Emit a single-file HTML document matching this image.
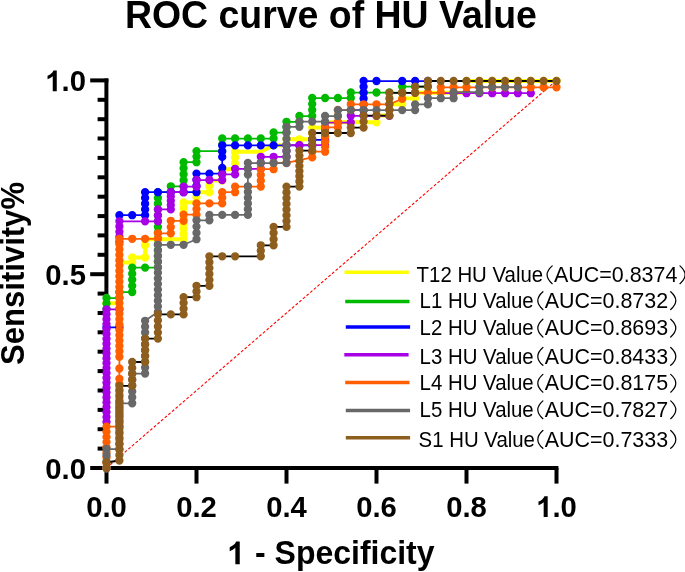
<!DOCTYPE html>
<html><head><meta charset="utf-8"><title>ROC curve of HU Value</title>
<style>
html,body{margin:0;padding:0;background:#fff;}
body{width:685px;height:572px;overflow:hidden;font-family:"Liberation Sans",sans-serif;}
svg{display:block;will-change:transform;}
</style></head><body>
<svg width="685" height="572" viewBox="0 0 685 572">
<rect width="685" height="572" fill="#ffffff"/>
<g stroke="#000000" stroke-width="4" fill="none">
<path d="M90.2 468H558.4"/>
<path d="M106.4 470V78.4"/>
<path d="M97.6 448.6H106"/>
<path d="M97.6 429.2H106"/>
<path d="M97.6 409.9H106"/>
<path d="M97.6 390.5H106"/>
<path d="M97.6 371.1H106"/>
<path d="M97.6 351.7H106"/>
<path d="M97.6 332.3H106"/>
<path d="M97.6 313.0H106"/>
<path d="M97.6 293.6H106"/>
<path d="M90.2 274.2H106.4"/>
<path d="M97.6 254.8H106"/>
<path d="M97.6 235.4H106"/>
<path d="M97.6 216.1H106"/>
<path d="M97.6 196.7H106"/>
<path d="M97.6 177.3H106"/>
<path d="M97.6 157.9H106"/>
<path d="M97.6 138.5H106"/>
<path d="M97.6 119.2H106"/>
<path d="M97.6 99.8H106"/>
<path d="M90.2 80.4H108.4"/>
<path d="M106.5 468V483.6"/>
<path d="M196.5 468V483.6"/>
<path d="M286.5 468V483.6"/>
<path d="M376.5 468V483.6"/>
<path d="M466.5 468V483.6"/>
<path d="M556.5 468V483.6"/>
</g>
<path d="M106.5 468.0L556.5 80.4" stroke="#ff0000" stroke-width="1.1" stroke-dasharray="2.9 1.9" fill="none"/>
<path d="M106.5 468.0 L106.5 303.3 L119.4 303.3 L119.4 262.5 L132.2 262.5 L132.2 257.5 L145.1 257.5 L145.1 245.2 L145.1 239.3 L183.6 239.3 L183.6 202.4 L196.5 202.4 L196.5 192.2 L209.4 192.2 L209.4 185.8 L209.4 180.6 L222.2 180.6 L222.2 169.2 L235.1 169.2 L235.1 151.7 L260.8 151.7 L273.6 145.3 L286.5 145.3 L286.5 139.3 L312.2 139.3 L312.2 127.6 L325.1 127.6 L325.1 122.3 L376.5 122.3 L376.5 115.5 L389.4 115.5 L389.4 104.2 L402.2 104.2 L402.2 98.4 L415.1 98.4 L415.1 92.8 L466.5 92.8 L466.5 81.0 L556.5 81.0" fill="none" stroke="#ffff00" stroke-width="3.9" stroke-linejoin="round"/>
<path d="M106.5 468.0m-4.15 0a4.15 4.15 0 1 0 8.30 0a4.15 4.15 0 1 0 -8.30 0M106.5 303.3m-4.15 0a4.15 4.15 0 1 0 8.30 0a4.15 4.15 0 1 0 -8.30 0M119.4 303.3m-4.15 0a4.15 4.15 0 1 0 8.30 0a4.15 4.15 0 1 0 -8.30 0M119.4 262.5m-4.15 0a4.15 4.15 0 1 0 8.30 0a4.15 4.15 0 1 0 -8.30 0M132.2 262.5m-4.15 0a4.15 4.15 0 1 0 8.30 0a4.15 4.15 0 1 0 -8.30 0M132.2 257.5m-4.15 0a4.15 4.15 0 1 0 8.30 0a4.15 4.15 0 1 0 -8.30 0M145.1 257.5m-4.15 0a4.15 4.15 0 1 0 8.30 0a4.15 4.15 0 1 0 -8.30 0M145.1 245.2m-4.15 0a4.15 4.15 0 1 0 8.30 0a4.15 4.15 0 1 0 -8.30 0M145.1 239.3m-4.15 0a4.15 4.15 0 1 0 8.30 0a4.15 4.15 0 1 0 -8.30 0M183.6 239.3m-4.15 0a4.15 4.15 0 1 0 8.30 0a4.15 4.15 0 1 0 -8.30 0M183.6 234.0m-4.15 0a4.15 4.15 0 1 0 8.30 0a4.15 4.15 0 1 0 -8.30 0M183.6 228.8m-4.15 0a4.15 4.15 0 1 0 8.30 0a4.15 4.15 0 1 0 -8.30 0M183.6 223.5m-4.15 0a4.15 4.15 0 1 0 8.30 0a4.15 4.15 0 1 0 -8.30 0M183.6 218.2m-4.15 0a4.15 4.15 0 1 0 8.30 0a4.15 4.15 0 1 0 -8.30 0M183.6 212.9m-4.15 0a4.15 4.15 0 1 0 8.30 0a4.15 4.15 0 1 0 -8.30 0M183.6 207.7m-4.15 0a4.15 4.15 0 1 0 8.30 0a4.15 4.15 0 1 0 -8.30 0M183.6 202.4m-4.15 0a4.15 4.15 0 1 0 8.30 0a4.15 4.15 0 1 0 -8.30 0M196.5 202.4m-4.15 0a4.15 4.15 0 1 0 8.30 0a4.15 4.15 0 1 0 -8.30 0M196.5 197.3m-4.15 0a4.15 4.15 0 1 0 8.30 0a4.15 4.15 0 1 0 -8.30 0M196.5 192.2m-4.15 0a4.15 4.15 0 1 0 8.30 0a4.15 4.15 0 1 0 -8.30 0M209.4 192.2m-4.15 0a4.15 4.15 0 1 0 8.30 0a4.15 4.15 0 1 0 -8.30 0M209.4 185.8m-4.15 0a4.15 4.15 0 1 0 8.30 0a4.15 4.15 0 1 0 -8.30 0M209.4 180.6m-4.15 0a4.15 4.15 0 1 0 8.30 0a4.15 4.15 0 1 0 -8.30 0M222.2 180.6m-4.15 0a4.15 4.15 0 1 0 8.30 0a4.15 4.15 0 1 0 -8.30 0M222.2 174.9m-4.15 0a4.15 4.15 0 1 0 8.30 0a4.15 4.15 0 1 0 -8.30 0M222.2 169.2m-4.15 0a4.15 4.15 0 1 0 8.30 0a4.15 4.15 0 1 0 -8.30 0M235.1 169.2m-4.15 0a4.15 4.15 0 1 0 8.30 0a4.15 4.15 0 1 0 -8.30 0M235.1 163.4m-4.15 0a4.15 4.15 0 1 0 8.30 0a4.15 4.15 0 1 0 -8.30 0M235.1 157.5m-4.15 0a4.15 4.15 0 1 0 8.30 0a4.15 4.15 0 1 0 -8.30 0M235.1 151.7m-4.15 0a4.15 4.15 0 1 0 8.30 0a4.15 4.15 0 1 0 -8.30 0M273.6 145.3m-4.15 0a4.15 4.15 0 1 0 8.30 0a4.15 4.15 0 1 0 -8.30 0M286.5 145.3m-4.15 0a4.15 4.15 0 1 0 8.30 0a4.15 4.15 0 1 0 -8.30 0M286.5 139.3m-4.15 0a4.15 4.15 0 1 0 8.30 0a4.15 4.15 0 1 0 -8.30 0M299.4 139.3m-4.15 0a4.15 4.15 0 1 0 8.30 0a4.15 4.15 0 1 0 -8.30 0M312.2 139.3m-4.15 0a4.15 4.15 0 1 0 8.30 0a4.15 4.15 0 1 0 -8.30 0M312.2 133.4m-4.15 0a4.15 4.15 0 1 0 8.30 0a4.15 4.15 0 1 0 -8.30 0M312.2 127.6m-4.15 0a4.15 4.15 0 1 0 8.30 0a4.15 4.15 0 1 0 -8.30 0M325.1 127.6m-4.15 0a4.15 4.15 0 1 0 8.30 0a4.15 4.15 0 1 0 -8.30 0M325.1 122.3m-4.15 0a4.15 4.15 0 1 0 8.30 0a4.15 4.15 0 1 0 -8.30 0M376.5 122.3m-4.15 0a4.15 4.15 0 1 0 8.30 0a4.15 4.15 0 1 0 -8.30 0M376.5 115.5m-4.15 0a4.15 4.15 0 1 0 8.30 0a4.15 4.15 0 1 0 -8.30 0M389.4 115.5m-4.15 0a4.15 4.15 0 1 0 8.30 0a4.15 4.15 0 1 0 -8.30 0M389.4 109.8m-4.15 0a4.15 4.15 0 1 0 8.30 0a4.15 4.15 0 1 0 -8.30 0M389.4 104.2m-4.15 0a4.15 4.15 0 1 0 8.30 0a4.15 4.15 0 1 0 -8.30 0M402.2 104.2m-4.15 0a4.15 4.15 0 1 0 8.30 0a4.15 4.15 0 1 0 -8.30 0M402.2 98.4m-4.15 0a4.15 4.15 0 1 0 8.30 0a4.15 4.15 0 1 0 -8.30 0M415.1 98.4m-4.15 0a4.15 4.15 0 1 0 8.30 0a4.15 4.15 0 1 0 -8.30 0M415.1 92.8m-4.15 0a4.15 4.15 0 1 0 8.30 0a4.15 4.15 0 1 0 -8.30 0M427.9 92.8m-4.15 0a4.15 4.15 0 1 0 8.30 0a4.15 4.15 0 1 0 -8.30 0M440.8 92.8m-4.15 0a4.15 4.15 0 1 0 8.30 0a4.15 4.15 0 1 0 -8.30 0M453.6 92.8m-4.15 0a4.15 4.15 0 1 0 8.30 0a4.15 4.15 0 1 0 -8.30 0M466.5 92.8m-4.15 0a4.15 4.15 0 1 0 8.30 0a4.15 4.15 0 1 0 -8.30 0M466.5 86.9m-4.15 0a4.15 4.15 0 1 0 8.30 0a4.15 4.15 0 1 0 -8.30 0M466.5 81.0m-4.15 0a4.15 4.15 0 1 0 8.30 0a4.15 4.15 0 1 0 -8.30 0M479.4 81.0m-4.15 0a4.15 4.15 0 1 0 8.30 0a4.15 4.15 0 1 0 -8.30 0M492.2 81.0m-4.15 0a4.15 4.15 0 1 0 8.30 0a4.15 4.15 0 1 0 -8.30 0M505.1 81.0m-4.15 0a4.15 4.15 0 1 0 8.30 0a4.15 4.15 0 1 0 -8.30 0M517.9 81.0m-4.15 0a4.15 4.15 0 1 0 8.30 0a4.15 4.15 0 1 0 -8.30 0M530.8 81.0m-4.15 0a4.15 4.15 0 1 0 8.30 0a4.15 4.15 0 1 0 -8.30 0M543.6 81.0m-4.15 0a4.15 4.15 0 1 0 8.30 0a4.15 4.15 0 1 0 -8.30 0M556.5 81.0m-4.15 0a4.15 4.15 0 1 0 8.30 0a4.15 4.15 0 1 0 -8.30 0" fill="#ffff00"/>
<path d="M106.5 468.0 L106.5 309.0 L106.5 303.5 L106.5 298.0 L119.4 298.0 L119.4 292.0 L132.2 292.0 L132.2 267.6 L157.9 267.6 L157.9 192.2 L170.8 192.2 L170.8 186.3 L183.6 186.3 L183.6 162.2 L196.5 162.2 L196.5 151.1 L222.2 151.1 L222.2 138.5 L273.6 138.5 L273.6 132.5 L286.5 132.5 L286.5 121.8 L299.4 121.8 L299.4 116.0 L312.2 116.0 L312.2 98.0 L350.8 98.0 L350.8 92.5 L402.2 92.5 L402.2 86.6 L427.9 86.6" fill="none" stroke="#00ba00" stroke-width="1.75" stroke-linejoin="round"/>
<path d="M106.5 468.0m-4.15 0a4.15 4.15 0 1 0 8.30 0a4.15 4.15 0 1 0 -8.30 0M106.5 309.0m-4.15 0a4.15 4.15 0 1 0 8.30 0a4.15 4.15 0 1 0 -8.30 0M106.5 303.5m-4.15 0a4.15 4.15 0 1 0 8.30 0a4.15 4.15 0 1 0 -8.30 0M106.5 298.0m-4.15 0a4.15 4.15 0 1 0 8.30 0a4.15 4.15 0 1 0 -8.30 0M119.4 298.0m-4.15 0a4.15 4.15 0 1 0 8.30 0a4.15 4.15 0 1 0 -8.30 0M119.4 292.0m-4.15 0a4.15 4.15 0 1 0 8.30 0a4.15 4.15 0 1 0 -8.30 0M132.2 292.0m-4.15 0a4.15 4.15 0 1 0 8.30 0a4.15 4.15 0 1 0 -8.30 0M132.2 285.9m-4.15 0a4.15 4.15 0 1 0 8.30 0a4.15 4.15 0 1 0 -8.30 0M132.2 279.8m-4.15 0a4.15 4.15 0 1 0 8.30 0a4.15 4.15 0 1 0 -8.30 0M132.2 273.7m-4.15 0a4.15 4.15 0 1 0 8.30 0a4.15 4.15 0 1 0 -8.30 0M132.2 267.6m-4.15 0a4.15 4.15 0 1 0 8.30 0a4.15 4.15 0 1 0 -8.30 0M145.1 267.6m-4.15 0a4.15 4.15 0 1 0 8.30 0a4.15 4.15 0 1 0 -8.30 0M157.9 267.6m-4.15 0a4.15 4.15 0 1 0 8.30 0a4.15 4.15 0 1 0 -8.30 0M157.9 261.8m-4.15 0a4.15 4.15 0 1 0 8.30 0a4.15 4.15 0 1 0 -8.30 0M157.9 256.0m-4.15 0a4.15 4.15 0 1 0 8.30 0a4.15 4.15 0 1 0 -8.30 0M157.9 250.2m-4.15 0a4.15 4.15 0 1 0 8.30 0a4.15 4.15 0 1 0 -8.30 0M157.9 244.4m-4.15 0a4.15 4.15 0 1 0 8.30 0a4.15 4.15 0 1 0 -8.30 0M157.9 238.6m-4.15 0a4.15 4.15 0 1 0 8.30 0a4.15 4.15 0 1 0 -8.30 0M157.9 232.8m-4.15 0a4.15 4.15 0 1 0 8.30 0a4.15 4.15 0 1 0 -8.30 0M157.9 227.0m-4.15 0a4.15 4.15 0 1 0 8.30 0a4.15 4.15 0 1 0 -8.30 0M157.9 221.2m-4.15 0a4.15 4.15 0 1 0 8.30 0a4.15 4.15 0 1 0 -8.30 0M157.9 215.4m-4.15 0a4.15 4.15 0 1 0 8.30 0a4.15 4.15 0 1 0 -8.30 0M157.9 209.6m-4.15 0a4.15 4.15 0 1 0 8.30 0a4.15 4.15 0 1 0 -8.30 0M157.9 203.8m-4.15 0a4.15 4.15 0 1 0 8.30 0a4.15 4.15 0 1 0 -8.30 0M157.9 198.0m-4.15 0a4.15 4.15 0 1 0 8.30 0a4.15 4.15 0 1 0 -8.30 0M157.9 192.2m-4.15 0a4.15 4.15 0 1 0 8.30 0a4.15 4.15 0 1 0 -8.30 0M170.8 192.2m-4.15 0a4.15 4.15 0 1 0 8.30 0a4.15 4.15 0 1 0 -8.30 0M170.8 186.3m-4.15 0a4.15 4.15 0 1 0 8.30 0a4.15 4.15 0 1 0 -8.30 0M183.6 186.3m-4.15 0a4.15 4.15 0 1 0 8.30 0a4.15 4.15 0 1 0 -8.30 0M183.6 180.3m-4.15 0a4.15 4.15 0 1 0 8.30 0a4.15 4.15 0 1 0 -8.30 0M183.6 174.2m-4.15 0a4.15 4.15 0 1 0 8.30 0a4.15 4.15 0 1 0 -8.30 0M183.6 168.2m-4.15 0a4.15 4.15 0 1 0 8.30 0a4.15 4.15 0 1 0 -8.30 0M183.6 162.2m-4.15 0a4.15 4.15 0 1 0 8.30 0a4.15 4.15 0 1 0 -8.30 0M196.5 162.2m-4.15 0a4.15 4.15 0 1 0 8.30 0a4.15 4.15 0 1 0 -8.30 0M196.5 156.6m-4.15 0a4.15 4.15 0 1 0 8.30 0a4.15 4.15 0 1 0 -8.30 0M196.5 151.1m-4.15 0a4.15 4.15 0 1 0 8.30 0a4.15 4.15 0 1 0 -8.30 0M222.2 151.1m-4.15 0a4.15 4.15 0 1 0 8.30 0a4.15 4.15 0 1 0 -8.30 0M222.2 144.8m-4.15 0a4.15 4.15 0 1 0 8.30 0a4.15 4.15 0 1 0 -8.30 0M222.2 138.5m-4.15 0a4.15 4.15 0 1 0 8.30 0a4.15 4.15 0 1 0 -8.30 0M235.1 138.5m-4.15 0a4.15 4.15 0 1 0 8.30 0a4.15 4.15 0 1 0 -8.30 0M247.9 138.5m-4.15 0a4.15 4.15 0 1 0 8.30 0a4.15 4.15 0 1 0 -8.30 0M260.8 138.5m-4.15 0a4.15 4.15 0 1 0 8.30 0a4.15 4.15 0 1 0 -8.30 0M273.6 138.5m-4.15 0a4.15 4.15 0 1 0 8.30 0a4.15 4.15 0 1 0 -8.30 0M273.6 132.5m-4.15 0a4.15 4.15 0 1 0 8.30 0a4.15 4.15 0 1 0 -8.30 0M286.5 132.5m-4.15 0a4.15 4.15 0 1 0 8.30 0a4.15 4.15 0 1 0 -8.30 0M286.5 127.2m-4.15 0a4.15 4.15 0 1 0 8.30 0a4.15 4.15 0 1 0 -8.30 0M286.5 121.8m-4.15 0a4.15 4.15 0 1 0 8.30 0a4.15 4.15 0 1 0 -8.30 0M299.4 121.8m-4.15 0a4.15 4.15 0 1 0 8.30 0a4.15 4.15 0 1 0 -8.30 0M299.4 116.0m-4.15 0a4.15 4.15 0 1 0 8.30 0a4.15 4.15 0 1 0 -8.30 0M312.2 116.0m-4.15 0a4.15 4.15 0 1 0 8.30 0a4.15 4.15 0 1 0 -8.30 0M312.2 110.0m-4.15 0a4.15 4.15 0 1 0 8.30 0a4.15 4.15 0 1 0 -8.30 0M312.2 104.0m-4.15 0a4.15 4.15 0 1 0 8.30 0a4.15 4.15 0 1 0 -8.30 0M312.2 98.0m-4.15 0a4.15 4.15 0 1 0 8.30 0a4.15 4.15 0 1 0 -8.30 0M325.1 98.0m-4.15 0a4.15 4.15 0 1 0 8.30 0a4.15 4.15 0 1 0 -8.30 0M337.9 98.0m-4.15 0a4.15 4.15 0 1 0 8.30 0a4.15 4.15 0 1 0 -8.30 0M350.8 98.0m-4.15 0a4.15 4.15 0 1 0 8.30 0a4.15 4.15 0 1 0 -8.30 0M350.8 92.5m-4.15 0a4.15 4.15 0 1 0 8.30 0a4.15 4.15 0 1 0 -8.30 0M363.6 92.5m-4.15 0a4.15 4.15 0 1 0 8.30 0a4.15 4.15 0 1 0 -8.30 0M376.5 92.5m-4.15 0a4.15 4.15 0 1 0 8.30 0a4.15 4.15 0 1 0 -8.30 0M389.4 92.5m-4.15 0a4.15 4.15 0 1 0 8.30 0a4.15 4.15 0 1 0 -8.30 0M402.2 92.5m-4.15 0a4.15 4.15 0 1 0 8.30 0a4.15 4.15 0 1 0 -8.30 0M402.2 86.6m-4.15 0a4.15 4.15 0 1 0 8.30 0a4.15 4.15 0 1 0 -8.30 0M415.1 86.6m-4.15 0a4.15 4.15 0 1 0 8.30 0a4.15 4.15 0 1 0 -8.30 0M427.9 86.6m-4.15 0a4.15 4.15 0 1 0 8.30 0a4.15 4.15 0 1 0 -8.30 0" fill="#00ba00"/>
<path d="M106.5 468.0 L106.5 327.3 L119.4 327.3 L119.4 215.2 L145.1 215.2 L145.1 192.2 L196.5 192.2 L196.5 173.6 L222.2 173.6 L222.2 168.0 L222.2 156.9 L222.2 151.4 L222.2 145.4 L312.2 145.4 L312.2 139.8 L325.1 139.8 L325.1 128.0M350.8 110.2 L363.6 110.2 L363.6 81.0 L427.9 81.0" fill="none" stroke="#0000ff" stroke-width="1.75" stroke-linejoin="round"/>
<path d="M106.5 468.0m-4.15 0a4.15 4.15 0 1 0 8.30 0a4.15 4.15 0 1 0 -8.30 0M106.5 327.3m-4.15 0a4.15 4.15 0 1 0 8.30 0a4.15 4.15 0 1 0 -8.30 0M119.4 327.3m-4.15 0a4.15 4.15 0 1 0 8.30 0a4.15 4.15 0 1 0 -8.30 0M119.4 215.2m-4.15 0a4.15 4.15 0 1 0 8.30 0a4.15 4.15 0 1 0 -8.30 0M132.2 215.2m-4.15 0a4.15 4.15 0 1 0 8.30 0a4.15 4.15 0 1 0 -8.30 0M145.1 215.2m-4.15 0a4.15 4.15 0 1 0 8.30 0a4.15 4.15 0 1 0 -8.30 0M145.1 209.4m-4.15 0a4.15 4.15 0 1 0 8.30 0a4.15 4.15 0 1 0 -8.30 0M145.1 203.7m-4.15 0a4.15 4.15 0 1 0 8.30 0a4.15 4.15 0 1 0 -8.30 0M145.1 197.9m-4.15 0a4.15 4.15 0 1 0 8.30 0a4.15 4.15 0 1 0 -8.30 0M145.1 192.2m-4.15 0a4.15 4.15 0 1 0 8.30 0a4.15 4.15 0 1 0 -8.30 0M157.9 192.2m-4.15 0a4.15 4.15 0 1 0 8.30 0a4.15 4.15 0 1 0 -8.30 0M170.8 192.2m-4.15 0a4.15 4.15 0 1 0 8.30 0a4.15 4.15 0 1 0 -8.30 0M183.6 192.2m-4.15 0a4.15 4.15 0 1 0 8.30 0a4.15 4.15 0 1 0 -8.30 0M196.5 192.2m-4.15 0a4.15 4.15 0 1 0 8.30 0a4.15 4.15 0 1 0 -8.30 0M196.5 186.0m-4.15 0a4.15 4.15 0 1 0 8.30 0a4.15 4.15 0 1 0 -8.30 0M196.5 179.8m-4.15 0a4.15 4.15 0 1 0 8.30 0a4.15 4.15 0 1 0 -8.30 0M196.5 173.6m-4.15 0a4.15 4.15 0 1 0 8.30 0a4.15 4.15 0 1 0 -8.30 0M209.4 173.6m-4.15 0a4.15 4.15 0 1 0 8.30 0a4.15 4.15 0 1 0 -8.30 0M222.2 173.6m-4.15 0a4.15 4.15 0 1 0 8.30 0a4.15 4.15 0 1 0 -8.30 0M222.2 168.0m-4.15 0a4.15 4.15 0 1 0 8.30 0a4.15 4.15 0 1 0 -8.30 0M222.2 156.9m-4.15 0a4.15 4.15 0 1 0 8.30 0a4.15 4.15 0 1 0 -8.30 0M222.2 151.4m-4.15 0a4.15 4.15 0 1 0 8.30 0a4.15 4.15 0 1 0 -8.30 0M222.2 145.4m-4.15 0a4.15 4.15 0 1 0 8.30 0a4.15 4.15 0 1 0 -8.30 0M235.1 145.4m-4.15 0a4.15 4.15 0 1 0 8.30 0a4.15 4.15 0 1 0 -8.30 0M247.9 145.4m-4.15 0a4.15 4.15 0 1 0 8.30 0a4.15 4.15 0 1 0 -8.30 0M260.8 145.4m-4.15 0a4.15 4.15 0 1 0 8.30 0a4.15 4.15 0 1 0 -8.30 0M273.6 145.4m-4.15 0a4.15 4.15 0 1 0 8.30 0a4.15 4.15 0 1 0 -8.30 0M286.5 145.4m-4.15 0a4.15 4.15 0 1 0 8.30 0a4.15 4.15 0 1 0 -8.30 0M299.4 145.4m-4.15 0a4.15 4.15 0 1 0 8.30 0a4.15 4.15 0 1 0 -8.30 0M312.2 145.4m-4.15 0a4.15 4.15 0 1 0 8.30 0a4.15 4.15 0 1 0 -8.30 0M312.2 139.8m-4.15 0a4.15 4.15 0 1 0 8.30 0a4.15 4.15 0 1 0 -8.30 0M325.1 139.8m-4.15 0a4.15 4.15 0 1 0 8.30 0a4.15 4.15 0 1 0 -8.30 0M325.1 128.0m-4.15 0a4.15 4.15 0 1 0 8.30 0a4.15 4.15 0 1 0 -8.30 0M363.6 110.2m-4.15 0a4.15 4.15 0 1 0 8.30 0a4.15 4.15 0 1 0 -8.30 0M363.6 104.4m-4.15 0a4.15 4.15 0 1 0 8.30 0a4.15 4.15 0 1 0 -8.30 0M363.6 98.5m-4.15 0a4.15 4.15 0 1 0 8.30 0a4.15 4.15 0 1 0 -8.30 0M363.6 92.7m-4.15 0a4.15 4.15 0 1 0 8.30 0a4.15 4.15 0 1 0 -8.30 0M363.6 86.8m-4.15 0a4.15 4.15 0 1 0 8.30 0a4.15 4.15 0 1 0 -8.30 0M363.6 81.0m-4.15 0a4.15 4.15 0 1 0 8.30 0a4.15 4.15 0 1 0 -8.30 0M376.5 81.0m-4.15 0a4.15 4.15 0 1 0 8.30 0a4.15 4.15 0 1 0 -8.30 0M402.2 81.0m-4.15 0a4.15 4.15 0 1 0 8.30 0a4.15 4.15 0 1 0 -8.30 0M415.1 81.0m-4.15 0a4.15 4.15 0 1 0 8.30 0a4.15 4.15 0 1 0 -8.30 0M427.9 81.0m-4.15 0a4.15 4.15 0 1 0 8.30 0a4.15 4.15 0 1 0 -8.30 0" fill="#0000ff"/>
<path d="M106.5 468.0 L106.5 422.0 L106.5 309.4 L119.4 309.4 L119.4 242.0 L119.4 221.3 L157.9 221.3 L157.9 209.4 L170.8 209.4 L170.8 192.2 L183.6 192.2 L183.6 186.6 L196.5 186.6 L196.5 180.0 L222.2 180.0 L222.2 174.4 L235.1 174.4 L235.1 168.8 L260.8 168.8 L260.8 156.8 L286.5 156.8 L286.5 145.2 L325.1 145.2 L325.1 122.5 L350.8 122.5 L350.8 115.8 L389.4 115.8M440.8 93.2 L530.8 93.2" fill="none" stroke="#a800e6" stroke-width="1.75" stroke-linejoin="round"/>
<path d="M106.5 468.0m-4.15 0a4.15 4.15 0 1 0 8.30 0a4.15 4.15 0 1 0 -8.30 0M106.5 422.0m-4.15 0a4.15 4.15 0 1 0 8.30 0a4.15 4.15 0 1 0 -8.30 0M106.5 417.1m-4.15 0a4.15 4.15 0 1 0 8.30 0a4.15 4.15 0 1 0 -8.30 0M106.5 412.2m-4.15 0a4.15 4.15 0 1 0 8.30 0a4.15 4.15 0 1 0 -8.30 0M106.5 407.3m-4.15 0a4.15 4.15 0 1 0 8.30 0a4.15 4.15 0 1 0 -8.30 0M106.5 402.4m-4.15 0a4.15 4.15 0 1 0 8.30 0a4.15 4.15 0 1 0 -8.30 0M106.5 397.5m-4.15 0a4.15 4.15 0 1 0 8.30 0a4.15 4.15 0 1 0 -8.30 0M106.5 392.6m-4.15 0a4.15 4.15 0 1 0 8.30 0a4.15 4.15 0 1 0 -8.30 0M106.5 387.7m-4.15 0a4.15 4.15 0 1 0 8.30 0a4.15 4.15 0 1 0 -8.30 0M106.5 382.8m-4.15 0a4.15 4.15 0 1 0 8.30 0a4.15 4.15 0 1 0 -8.30 0M106.5 377.9m-4.15 0a4.15 4.15 0 1 0 8.30 0a4.15 4.15 0 1 0 -8.30 0M106.5 373.0m-4.15 0a4.15 4.15 0 1 0 8.30 0a4.15 4.15 0 1 0 -8.30 0M106.5 368.1m-4.15 0a4.15 4.15 0 1 0 8.30 0a4.15 4.15 0 1 0 -8.30 0M106.5 363.3m-4.15 0a4.15 4.15 0 1 0 8.30 0a4.15 4.15 0 1 0 -8.30 0M106.5 358.4m-4.15 0a4.15 4.15 0 1 0 8.30 0a4.15 4.15 0 1 0 -8.30 0M106.5 353.5m-4.15 0a4.15 4.15 0 1 0 8.30 0a4.15 4.15 0 1 0 -8.30 0M106.5 348.6m-4.15 0a4.15 4.15 0 1 0 8.30 0a4.15 4.15 0 1 0 -8.30 0M106.5 343.7m-4.15 0a4.15 4.15 0 1 0 8.30 0a4.15 4.15 0 1 0 -8.30 0M106.5 338.8m-4.15 0a4.15 4.15 0 1 0 8.30 0a4.15 4.15 0 1 0 -8.30 0M106.5 333.9m-4.15 0a4.15 4.15 0 1 0 8.30 0a4.15 4.15 0 1 0 -8.30 0M106.5 329.0m-4.15 0a4.15 4.15 0 1 0 8.30 0a4.15 4.15 0 1 0 -8.30 0M106.5 324.1m-4.15 0a4.15 4.15 0 1 0 8.30 0a4.15 4.15 0 1 0 -8.30 0M106.5 319.2m-4.15 0a4.15 4.15 0 1 0 8.30 0a4.15 4.15 0 1 0 -8.30 0M106.5 314.3m-4.15 0a4.15 4.15 0 1 0 8.30 0a4.15 4.15 0 1 0 -8.30 0M106.5 309.4m-4.15 0a4.15 4.15 0 1 0 8.30 0a4.15 4.15 0 1 0 -8.30 0M119.4 309.4m-4.15 0a4.15 4.15 0 1 0 8.30 0a4.15 4.15 0 1 0 -8.30 0M119.4 242.0m-4.15 0a4.15 4.15 0 1 0 8.30 0a4.15 4.15 0 1 0 -8.30 0M119.4 236.8m-4.15 0a4.15 4.15 0 1 0 8.30 0a4.15 4.15 0 1 0 -8.30 0M119.4 231.7m-4.15 0a4.15 4.15 0 1 0 8.30 0a4.15 4.15 0 1 0 -8.30 0M119.4 226.5m-4.15 0a4.15 4.15 0 1 0 8.30 0a4.15 4.15 0 1 0 -8.30 0M119.4 221.3m-4.15 0a4.15 4.15 0 1 0 8.30 0a4.15 4.15 0 1 0 -8.30 0M145.1 221.3m-4.15 0a4.15 4.15 0 1 0 8.30 0a4.15 4.15 0 1 0 -8.30 0M157.9 221.3m-4.15 0a4.15 4.15 0 1 0 8.30 0a4.15 4.15 0 1 0 -8.30 0M157.9 215.4m-4.15 0a4.15 4.15 0 1 0 8.30 0a4.15 4.15 0 1 0 -8.30 0M157.9 209.4m-4.15 0a4.15 4.15 0 1 0 8.30 0a4.15 4.15 0 1 0 -8.30 0M170.8 209.4m-4.15 0a4.15 4.15 0 1 0 8.30 0a4.15 4.15 0 1 0 -8.30 0M170.8 205.1m-4.15 0a4.15 4.15 0 1 0 8.30 0a4.15 4.15 0 1 0 -8.30 0M170.8 200.8m-4.15 0a4.15 4.15 0 1 0 8.30 0a4.15 4.15 0 1 0 -8.30 0M170.8 196.5m-4.15 0a4.15 4.15 0 1 0 8.30 0a4.15 4.15 0 1 0 -8.30 0M170.8 192.2m-4.15 0a4.15 4.15 0 1 0 8.30 0a4.15 4.15 0 1 0 -8.30 0M183.6 192.2m-4.15 0a4.15 4.15 0 1 0 8.30 0a4.15 4.15 0 1 0 -8.30 0M183.6 186.6m-4.15 0a4.15 4.15 0 1 0 8.30 0a4.15 4.15 0 1 0 -8.30 0M196.5 186.6m-4.15 0a4.15 4.15 0 1 0 8.30 0a4.15 4.15 0 1 0 -8.30 0M196.5 180.0m-4.15 0a4.15 4.15 0 1 0 8.30 0a4.15 4.15 0 1 0 -8.30 0M209.4 180.0m-4.15 0a4.15 4.15 0 1 0 8.30 0a4.15 4.15 0 1 0 -8.30 0M222.2 180.0m-4.15 0a4.15 4.15 0 1 0 8.30 0a4.15 4.15 0 1 0 -8.30 0M222.2 174.4m-4.15 0a4.15 4.15 0 1 0 8.30 0a4.15 4.15 0 1 0 -8.30 0M235.1 174.4m-4.15 0a4.15 4.15 0 1 0 8.30 0a4.15 4.15 0 1 0 -8.30 0M235.1 168.8m-4.15 0a4.15 4.15 0 1 0 8.30 0a4.15 4.15 0 1 0 -8.30 0M247.9 168.8m-4.15 0a4.15 4.15 0 1 0 8.30 0a4.15 4.15 0 1 0 -8.30 0M260.8 168.8m-4.15 0a4.15 4.15 0 1 0 8.30 0a4.15 4.15 0 1 0 -8.30 0M260.8 162.8m-4.15 0a4.15 4.15 0 1 0 8.30 0a4.15 4.15 0 1 0 -8.30 0M260.8 156.8m-4.15 0a4.15 4.15 0 1 0 8.30 0a4.15 4.15 0 1 0 -8.30 0M273.6 156.8m-4.15 0a4.15 4.15 0 1 0 8.30 0a4.15 4.15 0 1 0 -8.30 0M286.5 156.8m-4.15 0a4.15 4.15 0 1 0 8.30 0a4.15 4.15 0 1 0 -8.30 0M286.5 151.0m-4.15 0a4.15 4.15 0 1 0 8.30 0a4.15 4.15 0 1 0 -8.30 0M286.5 145.2m-4.15 0a4.15 4.15 0 1 0 8.30 0a4.15 4.15 0 1 0 -8.30 0M299.4 145.2m-4.15 0a4.15 4.15 0 1 0 8.30 0a4.15 4.15 0 1 0 -8.30 0M312.2 145.2m-4.15 0a4.15 4.15 0 1 0 8.30 0a4.15 4.15 0 1 0 -8.30 0M325.1 145.2m-4.15 0a4.15 4.15 0 1 0 8.30 0a4.15 4.15 0 1 0 -8.30 0M325.1 140.7m-4.15 0a4.15 4.15 0 1 0 8.30 0a4.15 4.15 0 1 0 -8.30 0M325.1 136.1m-4.15 0a4.15 4.15 0 1 0 8.30 0a4.15 4.15 0 1 0 -8.30 0M325.1 131.6m-4.15 0a4.15 4.15 0 1 0 8.30 0a4.15 4.15 0 1 0 -8.30 0M325.1 127.0m-4.15 0a4.15 4.15 0 1 0 8.30 0a4.15 4.15 0 1 0 -8.30 0M325.1 122.5m-4.15 0a4.15 4.15 0 1 0 8.30 0a4.15 4.15 0 1 0 -8.30 0M337.9 122.5m-4.15 0a4.15 4.15 0 1 0 8.30 0a4.15 4.15 0 1 0 -8.30 0M350.8 122.5m-4.15 0a4.15 4.15 0 1 0 8.30 0a4.15 4.15 0 1 0 -8.30 0M350.8 115.8m-4.15 0a4.15 4.15 0 1 0 8.30 0a4.15 4.15 0 1 0 -8.30 0M363.6 115.8m-4.15 0a4.15 4.15 0 1 0 8.30 0a4.15 4.15 0 1 0 -8.30 0M376.5 115.8m-4.15 0a4.15 4.15 0 1 0 8.30 0a4.15 4.15 0 1 0 -8.30 0M389.4 115.8m-4.15 0a4.15 4.15 0 1 0 8.30 0a4.15 4.15 0 1 0 -8.30 0M453.6 93.2m-4.15 0a4.15 4.15 0 1 0 8.30 0a4.15 4.15 0 1 0 -8.30 0M466.5 93.2m-4.15 0a4.15 4.15 0 1 0 8.30 0a4.15 4.15 0 1 0 -8.30 0M479.4 93.2m-4.15 0a4.15 4.15 0 1 0 8.30 0a4.15 4.15 0 1 0 -8.30 0M492.2 93.2m-4.15 0a4.15 4.15 0 1 0 8.30 0a4.15 4.15 0 1 0 -8.30 0M505.1 93.2m-4.15 0a4.15 4.15 0 1 0 8.30 0a4.15 4.15 0 1 0 -8.30 0M517.9 93.2m-4.15 0a4.15 4.15 0 1 0 8.30 0a4.15 4.15 0 1 0 -8.30 0M530.8 93.2m-4.15 0a4.15 4.15 0 1 0 8.30 0a4.15 4.15 0 1 0 -8.30 0" fill="#a800e6"/>
<path d="M106.5 468.0 L106.5 426.6 L119.4 426.6 L119.4 378.8 L119.4 368.5 L119.4 356.7 L119.4 238.8 L157.9 238.8 L157.9 233.3 L170.8 233.3 L170.8 220.8 L183.6 220.8 L183.6 214.7 L196.5 214.7 L196.5 203.4 L222.2 203.4 L222.2 192.2 L235.1 192.2 L235.1 186.6 L260.8 186.6 L260.8 169.2 L273.6 169.2 L273.6 162.8 L286.5 162.8 L312.2 157.4 L312.2 151.7 L325.1 151.7 L325.1 127.4 L337.9 127.4 L337.9 122.0 L337.9 116.0 L337.9 110.0 L350.8 110.0 L350.8 104.3 L389.4 104.3 L402.2 98.9 L402.2 92.8 L440.8 92.8 L440.8 87.3 L556.5 87.3" fill="none" stroke="#ff5f00" stroke-width="1.75" stroke-linejoin="round"/>
<path d="M106.5 468.0m-4.15 0a4.15 4.15 0 1 0 8.30 0a4.15 4.15 0 1 0 -8.30 0M106.5 462.8m-4.15 0a4.15 4.15 0 1 0 8.30 0a4.15 4.15 0 1 0 -8.30 0M106.5 457.6m-4.15 0a4.15 4.15 0 1 0 8.30 0a4.15 4.15 0 1 0 -8.30 0M106.5 452.5m-4.15 0a4.15 4.15 0 1 0 8.30 0a4.15 4.15 0 1 0 -8.30 0M106.5 447.3m-4.15 0a4.15 4.15 0 1 0 8.30 0a4.15 4.15 0 1 0 -8.30 0M106.5 442.1m-4.15 0a4.15 4.15 0 1 0 8.30 0a4.15 4.15 0 1 0 -8.30 0M106.5 437.0m-4.15 0a4.15 4.15 0 1 0 8.30 0a4.15 4.15 0 1 0 -8.30 0M106.5 431.8m-4.15 0a4.15 4.15 0 1 0 8.30 0a4.15 4.15 0 1 0 -8.30 0M106.5 426.6m-4.15 0a4.15 4.15 0 1 0 8.30 0a4.15 4.15 0 1 0 -8.30 0M119.4 426.6m-4.15 0a4.15 4.15 0 1 0 8.30 0a4.15 4.15 0 1 0 -8.30 0M119.4 421.3m-4.15 0a4.15 4.15 0 1 0 8.30 0a4.15 4.15 0 1 0 -8.30 0M119.4 416.0m-4.15 0a4.15 4.15 0 1 0 8.30 0a4.15 4.15 0 1 0 -8.30 0M119.4 410.7m-4.15 0a4.15 4.15 0 1 0 8.30 0a4.15 4.15 0 1 0 -8.30 0M119.4 405.4m-4.15 0a4.15 4.15 0 1 0 8.30 0a4.15 4.15 0 1 0 -8.30 0M119.4 400.0m-4.15 0a4.15 4.15 0 1 0 8.30 0a4.15 4.15 0 1 0 -8.30 0M119.4 394.7m-4.15 0a4.15 4.15 0 1 0 8.30 0a4.15 4.15 0 1 0 -8.30 0M119.4 389.4m-4.15 0a4.15 4.15 0 1 0 8.30 0a4.15 4.15 0 1 0 -8.30 0M119.4 384.1m-4.15 0a4.15 4.15 0 1 0 8.30 0a4.15 4.15 0 1 0 -8.30 0M119.4 378.8m-4.15 0a4.15 4.15 0 1 0 8.30 0a4.15 4.15 0 1 0 -8.30 0M119.4 368.5m-4.15 0a4.15 4.15 0 1 0 8.30 0a4.15 4.15 0 1 0 -8.30 0M119.4 356.7m-4.15 0a4.15 4.15 0 1 0 8.30 0a4.15 4.15 0 1 0 -8.30 0M119.4 351.3m-4.15 0a4.15 4.15 0 1 0 8.30 0a4.15 4.15 0 1 0 -8.30 0M119.4 346.0m-4.15 0a4.15 4.15 0 1 0 8.30 0a4.15 4.15 0 1 0 -8.30 0M119.4 340.6m-4.15 0a4.15 4.15 0 1 0 8.30 0a4.15 4.15 0 1 0 -8.30 0M119.4 335.3m-4.15 0a4.15 4.15 0 1 0 8.30 0a4.15 4.15 0 1 0 -8.30 0M119.4 329.9m-4.15 0a4.15 4.15 0 1 0 8.30 0a4.15 4.15 0 1 0 -8.30 0M119.4 324.5m-4.15 0a4.15 4.15 0 1 0 8.30 0a4.15 4.15 0 1 0 -8.30 0M119.4 319.2m-4.15 0a4.15 4.15 0 1 0 8.30 0a4.15 4.15 0 1 0 -8.30 0M119.4 313.8m-4.15 0a4.15 4.15 0 1 0 8.30 0a4.15 4.15 0 1 0 -8.30 0M119.4 308.5m-4.15 0a4.15 4.15 0 1 0 8.30 0a4.15 4.15 0 1 0 -8.30 0M119.4 303.1m-4.15 0a4.15 4.15 0 1 0 8.30 0a4.15 4.15 0 1 0 -8.30 0M119.4 297.8m-4.15 0a4.15 4.15 0 1 0 8.30 0a4.15 4.15 0 1 0 -8.30 0M119.4 292.4m-4.15 0a4.15 4.15 0 1 0 8.30 0a4.15 4.15 0 1 0 -8.30 0M119.4 287.0m-4.15 0a4.15 4.15 0 1 0 8.30 0a4.15 4.15 0 1 0 -8.30 0M119.4 281.7m-4.15 0a4.15 4.15 0 1 0 8.30 0a4.15 4.15 0 1 0 -8.30 0M119.4 276.3m-4.15 0a4.15 4.15 0 1 0 8.30 0a4.15 4.15 0 1 0 -8.30 0M119.4 271.0m-4.15 0a4.15 4.15 0 1 0 8.30 0a4.15 4.15 0 1 0 -8.30 0M119.4 265.6m-4.15 0a4.15 4.15 0 1 0 8.30 0a4.15 4.15 0 1 0 -8.30 0M119.4 260.2m-4.15 0a4.15 4.15 0 1 0 8.30 0a4.15 4.15 0 1 0 -8.30 0M119.4 254.9m-4.15 0a4.15 4.15 0 1 0 8.30 0a4.15 4.15 0 1 0 -8.30 0M119.4 249.5m-4.15 0a4.15 4.15 0 1 0 8.30 0a4.15 4.15 0 1 0 -8.30 0M119.4 244.2m-4.15 0a4.15 4.15 0 1 0 8.30 0a4.15 4.15 0 1 0 -8.30 0M119.4 238.8m-4.15 0a4.15 4.15 0 1 0 8.30 0a4.15 4.15 0 1 0 -8.30 0M132.2 238.8m-4.15 0a4.15 4.15 0 1 0 8.30 0a4.15 4.15 0 1 0 -8.30 0M145.1 238.8m-4.15 0a4.15 4.15 0 1 0 8.30 0a4.15 4.15 0 1 0 -8.30 0M157.9 238.8m-4.15 0a4.15 4.15 0 1 0 8.30 0a4.15 4.15 0 1 0 -8.30 0M157.9 233.3m-4.15 0a4.15 4.15 0 1 0 8.30 0a4.15 4.15 0 1 0 -8.30 0M170.8 233.3m-4.15 0a4.15 4.15 0 1 0 8.30 0a4.15 4.15 0 1 0 -8.30 0M170.8 227.1m-4.15 0a4.15 4.15 0 1 0 8.30 0a4.15 4.15 0 1 0 -8.30 0M170.8 220.8m-4.15 0a4.15 4.15 0 1 0 8.30 0a4.15 4.15 0 1 0 -8.30 0M183.6 220.8m-4.15 0a4.15 4.15 0 1 0 8.30 0a4.15 4.15 0 1 0 -8.30 0M183.6 214.7m-4.15 0a4.15 4.15 0 1 0 8.30 0a4.15 4.15 0 1 0 -8.30 0M196.5 214.7m-4.15 0a4.15 4.15 0 1 0 8.30 0a4.15 4.15 0 1 0 -8.30 0M196.5 209.1m-4.15 0a4.15 4.15 0 1 0 8.30 0a4.15 4.15 0 1 0 -8.30 0M196.5 203.4m-4.15 0a4.15 4.15 0 1 0 8.30 0a4.15 4.15 0 1 0 -8.30 0M209.4 203.4m-4.15 0a4.15 4.15 0 1 0 8.30 0a4.15 4.15 0 1 0 -8.30 0M222.2 203.4m-4.15 0a4.15 4.15 0 1 0 8.30 0a4.15 4.15 0 1 0 -8.30 0M222.2 197.8m-4.15 0a4.15 4.15 0 1 0 8.30 0a4.15 4.15 0 1 0 -8.30 0M222.2 192.2m-4.15 0a4.15 4.15 0 1 0 8.30 0a4.15 4.15 0 1 0 -8.30 0M235.1 192.2m-4.15 0a4.15 4.15 0 1 0 8.30 0a4.15 4.15 0 1 0 -8.30 0M235.1 186.6m-4.15 0a4.15 4.15 0 1 0 8.30 0a4.15 4.15 0 1 0 -8.30 0M247.9 186.6m-4.15 0a4.15 4.15 0 1 0 8.30 0a4.15 4.15 0 1 0 -8.30 0M260.8 186.6m-4.15 0a4.15 4.15 0 1 0 8.30 0a4.15 4.15 0 1 0 -8.30 0M260.8 180.8m-4.15 0a4.15 4.15 0 1 0 8.30 0a4.15 4.15 0 1 0 -8.30 0M260.8 175.0m-4.15 0a4.15 4.15 0 1 0 8.30 0a4.15 4.15 0 1 0 -8.30 0M260.8 169.2m-4.15 0a4.15 4.15 0 1 0 8.30 0a4.15 4.15 0 1 0 -8.30 0M273.6 169.2m-4.15 0a4.15 4.15 0 1 0 8.30 0a4.15 4.15 0 1 0 -8.30 0M273.6 162.8m-4.15 0a4.15 4.15 0 1 0 8.30 0a4.15 4.15 0 1 0 -8.30 0M286.5 162.8m-4.15 0a4.15 4.15 0 1 0 8.30 0a4.15 4.15 0 1 0 -8.30 0M312.2 157.4m-4.15 0a4.15 4.15 0 1 0 8.30 0a4.15 4.15 0 1 0 -8.30 0M312.2 151.7m-4.15 0a4.15 4.15 0 1 0 8.30 0a4.15 4.15 0 1 0 -8.30 0M325.1 151.7m-4.15 0a4.15 4.15 0 1 0 8.30 0a4.15 4.15 0 1 0 -8.30 0M325.1 146.8m-4.15 0a4.15 4.15 0 1 0 8.30 0a4.15 4.15 0 1 0 -8.30 0M325.1 142.0m-4.15 0a4.15 4.15 0 1 0 8.30 0a4.15 4.15 0 1 0 -8.30 0M325.1 137.1m-4.15 0a4.15 4.15 0 1 0 8.30 0a4.15 4.15 0 1 0 -8.30 0M325.1 132.3m-4.15 0a4.15 4.15 0 1 0 8.30 0a4.15 4.15 0 1 0 -8.30 0M325.1 127.4m-4.15 0a4.15 4.15 0 1 0 8.30 0a4.15 4.15 0 1 0 -8.30 0M337.9 127.4m-4.15 0a4.15 4.15 0 1 0 8.30 0a4.15 4.15 0 1 0 -8.30 0M337.9 122.0m-4.15 0a4.15 4.15 0 1 0 8.30 0a4.15 4.15 0 1 0 -8.30 0M337.9 116.0m-4.15 0a4.15 4.15 0 1 0 8.30 0a4.15 4.15 0 1 0 -8.30 0M337.9 110.0m-4.15 0a4.15 4.15 0 1 0 8.30 0a4.15 4.15 0 1 0 -8.30 0M350.8 110.0m-4.15 0a4.15 4.15 0 1 0 8.30 0a4.15 4.15 0 1 0 -8.30 0M350.8 104.3m-4.15 0a4.15 4.15 0 1 0 8.30 0a4.15 4.15 0 1 0 -8.30 0M363.6 104.3m-4.15 0a4.15 4.15 0 1 0 8.30 0a4.15 4.15 0 1 0 -8.30 0M376.5 104.3m-4.15 0a4.15 4.15 0 1 0 8.30 0a4.15 4.15 0 1 0 -8.30 0M389.4 104.3m-4.15 0a4.15 4.15 0 1 0 8.30 0a4.15 4.15 0 1 0 -8.30 0M402.2 98.9m-4.15 0a4.15 4.15 0 1 0 8.30 0a4.15 4.15 0 1 0 -8.30 0M402.2 92.8m-4.15 0a4.15 4.15 0 1 0 8.30 0a4.15 4.15 0 1 0 -8.30 0M415.1 92.8m-4.15 0a4.15 4.15 0 1 0 8.30 0a4.15 4.15 0 1 0 -8.30 0M427.9 92.8m-4.15 0a4.15 4.15 0 1 0 8.30 0a4.15 4.15 0 1 0 -8.30 0M440.8 92.8m-4.15 0a4.15 4.15 0 1 0 8.30 0a4.15 4.15 0 1 0 -8.30 0M440.8 87.3m-4.15 0a4.15 4.15 0 1 0 8.30 0a4.15 4.15 0 1 0 -8.30 0M453.6 87.3m-4.15 0a4.15 4.15 0 1 0 8.30 0a4.15 4.15 0 1 0 -8.30 0M466.5 87.3m-4.15 0a4.15 4.15 0 1 0 8.30 0a4.15 4.15 0 1 0 -8.30 0M479.4 87.3m-4.15 0a4.15 4.15 0 1 0 8.30 0a4.15 4.15 0 1 0 -8.30 0M492.2 87.3m-4.15 0a4.15 4.15 0 1 0 8.30 0a4.15 4.15 0 1 0 -8.30 0M505.1 87.3m-4.15 0a4.15 4.15 0 1 0 8.30 0a4.15 4.15 0 1 0 -8.30 0M517.9 87.3m-4.15 0a4.15 4.15 0 1 0 8.30 0a4.15 4.15 0 1 0 -8.30 0M530.8 87.3m-4.15 0a4.15 4.15 0 1 0 8.30 0a4.15 4.15 0 1 0 -8.30 0M543.6 87.3m-4.15 0a4.15 4.15 0 1 0 8.30 0a4.15 4.15 0 1 0 -8.30 0M556.5 87.3m-4.15 0a4.15 4.15 0 1 0 8.30 0a4.15 4.15 0 1 0 -8.30 0" fill="#ff5f00"/>
<path d="M106.5 468.0 L106.5 449.0 L119.4 449.0 L119.4 403.3 L132.2 403.3 L132.2 373.5 L145.1 373.5 L145.1 320.8 L157.9 312.0 L157.9 244.8 L183.6 244.8 L196.5 239.2 L196.5 220.3 L209.4 220.3 L209.4 214.9 L247.9 214.9 L247.9 186.3 L247.9 174.5 L247.9 163.0 L286.5 163.0 L286.5 126.8 L299.4 126.8 L299.4 121.6 L325.1 121.6 L325.1 116.0 L337.9 116.0 L337.9 110.1 L415.1 110.1 L415.1 104.4 L427.9 104.4 L427.9 98.2 L453.6 98.2 L453.6 92.2 L479.4 92.2 L479.4 87.0 L517.9 87.0" fill="none" stroke="#686868" stroke-width="1.75" stroke-linejoin="round"/>
<path d="M106.5 468.0m-4.15 0a4.15 4.15 0 1 0 8.30 0a4.15 4.15 0 1 0 -8.30 0M106.5 461.7m-4.15 0a4.15 4.15 0 1 0 8.30 0a4.15 4.15 0 1 0 -8.30 0M106.5 455.3m-4.15 0a4.15 4.15 0 1 0 8.30 0a4.15 4.15 0 1 0 -8.30 0M106.5 449.0m-4.15 0a4.15 4.15 0 1 0 8.30 0a4.15 4.15 0 1 0 -8.30 0M119.4 449.0m-4.15 0a4.15 4.15 0 1 0 8.30 0a4.15 4.15 0 1 0 -8.30 0M119.4 443.3m-4.15 0a4.15 4.15 0 1 0 8.30 0a4.15 4.15 0 1 0 -8.30 0M119.4 437.6m-4.15 0a4.15 4.15 0 1 0 8.30 0a4.15 4.15 0 1 0 -8.30 0M119.4 431.9m-4.15 0a4.15 4.15 0 1 0 8.30 0a4.15 4.15 0 1 0 -8.30 0M119.4 426.1m-4.15 0a4.15 4.15 0 1 0 8.30 0a4.15 4.15 0 1 0 -8.30 0M119.4 420.4m-4.15 0a4.15 4.15 0 1 0 8.30 0a4.15 4.15 0 1 0 -8.30 0M119.4 414.7m-4.15 0a4.15 4.15 0 1 0 8.30 0a4.15 4.15 0 1 0 -8.30 0M119.4 409.0m-4.15 0a4.15 4.15 0 1 0 8.30 0a4.15 4.15 0 1 0 -8.30 0M119.4 403.3m-4.15 0a4.15 4.15 0 1 0 8.30 0a4.15 4.15 0 1 0 -8.30 0M132.2 403.3m-4.15 0a4.15 4.15 0 1 0 8.30 0a4.15 4.15 0 1 0 -8.30 0M132.2 397.3m-4.15 0a4.15 4.15 0 1 0 8.30 0a4.15 4.15 0 1 0 -8.30 0M132.2 391.4m-4.15 0a4.15 4.15 0 1 0 8.30 0a4.15 4.15 0 1 0 -8.30 0M132.2 385.4m-4.15 0a4.15 4.15 0 1 0 8.30 0a4.15 4.15 0 1 0 -8.30 0M132.2 379.5m-4.15 0a4.15 4.15 0 1 0 8.30 0a4.15 4.15 0 1 0 -8.30 0M132.2 373.5m-4.15 0a4.15 4.15 0 1 0 8.30 0a4.15 4.15 0 1 0 -8.30 0M145.1 373.5m-4.15 0a4.15 4.15 0 1 0 8.30 0a4.15 4.15 0 1 0 -8.30 0M145.1 367.6m-4.15 0a4.15 4.15 0 1 0 8.30 0a4.15 4.15 0 1 0 -8.30 0M145.1 361.8m-4.15 0a4.15 4.15 0 1 0 8.30 0a4.15 4.15 0 1 0 -8.30 0M145.1 355.9m-4.15 0a4.15 4.15 0 1 0 8.30 0a4.15 4.15 0 1 0 -8.30 0M145.1 350.1m-4.15 0a4.15 4.15 0 1 0 8.30 0a4.15 4.15 0 1 0 -8.30 0M145.1 344.2m-4.15 0a4.15 4.15 0 1 0 8.30 0a4.15 4.15 0 1 0 -8.30 0M145.1 338.4m-4.15 0a4.15 4.15 0 1 0 8.30 0a4.15 4.15 0 1 0 -8.30 0M145.1 332.5m-4.15 0a4.15 4.15 0 1 0 8.30 0a4.15 4.15 0 1 0 -8.30 0M145.1 326.7m-4.15 0a4.15 4.15 0 1 0 8.30 0a4.15 4.15 0 1 0 -8.30 0M145.1 320.8m-4.15 0a4.15 4.15 0 1 0 8.30 0a4.15 4.15 0 1 0 -8.30 0M157.9 312.0m-4.15 0a4.15 4.15 0 1 0 8.30 0a4.15 4.15 0 1 0 -8.30 0M157.9 306.4m-4.15 0a4.15 4.15 0 1 0 8.30 0a4.15 4.15 0 1 0 -8.30 0M157.9 300.8m-4.15 0a4.15 4.15 0 1 0 8.30 0a4.15 4.15 0 1 0 -8.30 0M157.9 295.2m-4.15 0a4.15 4.15 0 1 0 8.30 0a4.15 4.15 0 1 0 -8.30 0M157.9 289.6m-4.15 0a4.15 4.15 0 1 0 8.30 0a4.15 4.15 0 1 0 -8.30 0M157.9 284.0m-4.15 0a4.15 4.15 0 1 0 8.30 0a4.15 4.15 0 1 0 -8.30 0M157.9 278.4m-4.15 0a4.15 4.15 0 1 0 8.30 0a4.15 4.15 0 1 0 -8.30 0M157.9 272.8m-4.15 0a4.15 4.15 0 1 0 8.30 0a4.15 4.15 0 1 0 -8.30 0M157.9 267.2m-4.15 0a4.15 4.15 0 1 0 8.30 0a4.15 4.15 0 1 0 -8.30 0M157.9 261.6m-4.15 0a4.15 4.15 0 1 0 8.30 0a4.15 4.15 0 1 0 -8.30 0M157.9 256.0m-4.15 0a4.15 4.15 0 1 0 8.30 0a4.15 4.15 0 1 0 -8.30 0M157.9 250.4m-4.15 0a4.15 4.15 0 1 0 8.30 0a4.15 4.15 0 1 0 -8.30 0M157.9 244.8m-4.15 0a4.15 4.15 0 1 0 8.30 0a4.15 4.15 0 1 0 -8.30 0M170.8 244.8m-4.15 0a4.15 4.15 0 1 0 8.30 0a4.15 4.15 0 1 0 -8.30 0M183.6 244.8m-4.15 0a4.15 4.15 0 1 0 8.30 0a4.15 4.15 0 1 0 -8.30 0M196.5 239.2m-4.15 0a4.15 4.15 0 1 0 8.30 0a4.15 4.15 0 1 0 -8.30 0M196.5 232.9m-4.15 0a4.15 4.15 0 1 0 8.30 0a4.15 4.15 0 1 0 -8.30 0M196.5 226.6m-4.15 0a4.15 4.15 0 1 0 8.30 0a4.15 4.15 0 1 0 -8.30 0M196.5 220.3m-4.15 0a4.15 4.15 0 1 0 8.30 0a4.15 4.15 0 1 0 -8.30 0M209.4 220.3m-4.15 0a4.15 4.15 0 1 0 8.30 0a4.15 4.15 0 1 0 -8.30 0M209.4 214.9m-4.15 0a4.15 4.15 0 1 0 8.30 0a4.15 4.15 0 1 0 -8.30 0M222.2 214.9m-4.15 0a4.15 4.15 0 1 0 8.30 0a4.15 4.15 0 1 0 -8.30 0M235.1 214.9m-4.15 0a4.15 4.15 0 1 0 8.30 0a4.15 4.15 0 1 0 -8.30 0M247.9 214.9m-4.15 0a4.15 4.15 0 1 0 8.30 0a4.15 4.15 0 1 0 -8.30 0M247.9 209.2m-4.15 0a4.15 4.15 0 1 0 8.30 0a4.15 4.15 0 1 0 -8.30 0M247.9 203.5m-4.15 0a4.15 4.15 0 1 0 8.30 0a4.15 4.15 0 1 0 -8.30 0M247.9 197.7m-4.15 0a4.15 4.15 0 1 0 8.30 0a4.15 4.15 0 1 0 -8.30 0M247.9 192.0m-4.15 0a4.15 4.15 0 1 0 8.30 0a4.15 4.15 0 1 0 -8.30 0M247.9 186.3m-4.15 0a4.15 4.15 0 1 0 8.30 0a4.15 4.15 0 1 0 -8.30 0M247.9 174.5m-4.15 0a4.15 4.15 0 1 0 8.30 0a4.15 4.15 0 1 0 -8.30 0M247.9 168.8m-4.15 0a4.15 4.15 0 1 0 8.30 0a4.15 4.15 0 1 0 -8.30 0M247.9 163.0m-4.15 0a4.15 4.15 0 1 0 8.30 0a4.15 4.15 0 1 0 -8.30 0M260.8 163.0m-4.15 0a4.15 4.15 0 1 0 8.30 0a4.15 4.15 0 1 0 -8.30 0M273.6 163.0m-4.15 0a4.15 4.15 0 1 0 8.30 0a4.15 4.15 0 1 0 -8.30 0M286.5 163.0m-4.15 0a4.15 4.15 0 1 0 8.30 0a4.15 4.15 0 1 0 -8.30 0M286.5 157.0m-4.15 0a4.15 4.15 0 1 0 8.30 0a4.15 4.15 0 1 0 -8.30 0M286.5 150.9m-4.15 0a4.15 4.15 0 1 0 8.30 0a4.15 4.15 0 1 0 -8.30 0M286.5 144.9m-4.15 0a4.15 4.15 0 1 0 8.30 0a4.15 4.15 0 1 0 -8.30 0M286.5 138.9m-4.15 0a4.15 4.15 0 1 0 8.30 0a4.15 4.15 0 1 0 -8.30 0M286.5 132.8m-4.15 0a4.15 4.15 0 1 0 8.30 0a4.15 4.15 0 1 0 -8.30 0M286.5 126.8m-4.15 0a4.15 4.15 0 1 0 8.30 0a4.15 4.15 0 1 0 -8.30 0M299.4 126.8m-4.15 0a4.15 4.15 0 1 0 8.30 0a4.15 4.15 0 1 0 -8.30 0M299.4 121.6m-4.15 0a4.15 4.15 0 1 0 8.30 0a4.15 4.15 0 1 0 -8.30 0M312.2 121.6m-4.15 0a4.15 4.15 0 1 0 8.30 0a4.15 4.15 0 1 0 -8.30 0M325.1 121.6m-4.15 0a4.15 4.15 0 1 0 8.30 0a4.15 4.15 0 1 0 -8.30 0M325.1 116.0m-4.15 0a4.15 4.15 0 1 0 8.30 0a4.15 4.15 0 1 0 -8.30 0M337.9 116.0m-4.15 0a4.15 4.15 0 1 0 8.30 0a4.15 4.15 0 1 0 -8.30 0M337.9 110.1m-4.15 0a4.15 4.15 0 1 0 8.30 0a4.15 4.15 0 1 0 -8.30 0M350.8 110.1m-4.15 0a4.15 4.15 0 1 0 8.30 0a4.15 4.15 0 1 0 -8.30 0M363.6 110.1m-4.15 0a4.15 4.15 0 1 0 8.30 0a4.15 4.15 0 1 0 -8.30 0M376.5 110.1m-4.15 0a4.15 4.15 0 1 0 8.30 0a4.15 4.15 0 1 0 -8.30 0M389.4 110.1m-4.15 0a4.15 4.15 0 1 0 8.30 0a4.15 4.15 0 1 0 -8.30 0M402.2 110.1m-4.15 0a4.15 4.15 0 1 0 8.30 0a4.15 4.15 0 1 0 -8.30 0M415.1 110.1m-4.15 0a4.15 4.15 0 1 0 8.30 0a4.15 4.15 0 1 0 -8.30 0M415.1 104.4m-4.15 0a4.15 4.15 0 1 0 8.30 0a4.15 4.15 0 1 0 -8.30 0M427.9 104.4m-4.15 0a4.15 4.15 0 1 0 8.30 0a4.15 4.15 0 1 0 -8.30 0M427.9 98.2m-4.15 0a4.15 4.15 0 1 0 8.30 0a4.15 4.15 0 1 0 -8.30 0M440.8 98.2m-4.15 0a4.15 4.15 0 1 0 8.30 0a4.15 4.15 0 1 0 -8.30 0M453.6 98.2m-4.15 0a4.15 4.15 0 1 0 8.30 0a4.15 4.15 0 1 0 -8.30 0M453.6 92.2m-4.15 0a4.15 4.15 0 1 0 8.30 0a4.15 4.15 0 1 0 -8.30 0M479.4 92.2m-4.15 0a4.15 4.15 0 1 0 8.30 0a4.15 4.15 0 1 0 -8.30 0M479.4 87.0m-4.15 0a4.15 4.15 0 1 0 8.30 0a4.15 4.15 0 1 0 -8.30 0M492.2 87.0m-4.15 0a4.15 4.15 0 1 0 8.30 0a4.15 4.15 0 1 0 -8.30 0M505.1 87.0m-4.15 0a4.15 4.15 0 1 0 8.30 0a4.15 4.15 0 1 0 -8.30 0M517.9 87.0m-4.15 0a4.15 4.15 0 1 0 8.30 0a4.15 4.15 0 1 0 -8.30 0" fill="#686868"/>
<path d="M106.5 468.0 L106.5 462.5 L119.4 460.5 L119.4 385.8 L132.2 385.8 L132.2 362.0 L145.1 362.0 L145.1 338.6 L157.9 338.6 L157.9 314.4 L183.6 314.4 L183.6 297.2 L196.5 297.2 L196.5 285.8 L209.4 285.8 L209.4 256.3 L260.8 256.3 L260.8 245.3 L273.6 245.3 L273.6 226.9 L286.5 226.9 L286.5 186.6 L299.4 186.6 L299.4 150.6 L312.2 150.6 L312.2 133.0 L350.8 133.0 L350.8 127.6 L363.6 127.6 L363.6 115.6 L389.4 115.6 L389.4 92.8 L415.1 92.8 L415.1 86.6 L427.9 86.6 L427.9 81.0 L556.5 81.0" fill="none" stroke="#000000" stroke-width="1.8" stroke-linejoin="round"/>
<path d="M106.5 468.0m-4.15 0a4.15 4.15 0 1 0 8.30 0a4.15 4.15 0 1 0 -8.30 0M106.5 462.5m-4.15 0a4.15 4.15 0 1 0 8.30 0a4.15 4.15 0 1 0 -8.30 0M119.4 460.5m-4.15 0a4.15 4.15 0 1 0 8.30 0a4.15 4.15 0 1 0 -8.30 0M119.4 455.2m-4.15 0a4.15 4.15 0 1 0 8.30 0a4.15 4.15 0 1 0 -8.30 0M119.4 449.8m-4.15 0a4.15 4.15 0 1 0 8.30 0a4.15 4.15 0 1 0 -8.30 0M119.4 444.5m-4.15 0a4.15 4.15 0 1 0 8.30 0a4.15 4.15 0 1 0 -8.30 0M119.4 439.2m-4.15 0a4.15 4.15 0 1 0 8.30 0a4.15 4.15 0 1 0 -8.30 0M119.4 433.8m-4.15 0a4.15 4.15 0 1 0 8.30 0a4.15 4.15 0 1 0 -8.30 0M119.4 428.5m-4.15 0a4.15 4.15 0 1 0 8.30 0a4.15 4.15 0 1 0 -8.30 0M119.4 423.2m-4.15 0a4.15 4.15 0 1 0 8.30 0a4.15 4.15 0 1 0 -8.30 0M119.4 417.8m-4.15 0a4.15 4.15 0 1 0 8.30 0a4.15 4.15 0 1 0 -8.30 0M119.4 412.5m-4.15 0a4.15 4.15 0 1 0 8.30 0a4.15 4.15 0 1 0 -8.30 0M119.4 407.1m-4.15 0a4.15 4.15 0 1 0 8.30 0a4.15 4.15 0 1 0 -8.30 0M119.4 401.8m-4.15 0a4.15 4.15 0 1 0 8.30 0a4.15 4.15 0 1 0 -8.30 0M119.4 396.5m-4.15 0a4.15 4.15 0 1 0 8.30 0a4.15 4.15 0 1 0 -8.30 0M119.4 391.1m-4.15 0a4.15 4.15 0 1 0 8.30 0a4.15 4.15 0 1 0 -8.30 0M119.4 385.8m-4.15 0a4.15 4.15 0 1 0 8.30 0a4.15 4.15 0 1 0 -8.30 0M132.2 385.8m-4.15 0a4.15 4.15 0 1 0 8.30 0a4.15 4.15 0 1 0 -8.30 0M132.2 379.9m-4.15 0a4.15 4.15 0 1 0 8.30 0a4.15 4.15 0 1 0 -8.30 0M132.2 373.9m-4.15 0a4.15 4.15 0 1 0 8.30 0a4.15 4.15 0 1 0 -8.30 0M132.2 367.9m-4.15 0a4.15 4.15 0 1 0 8.30 0a4.15 4.15 0 1 0 -8.30 0M132.2 362.0m-4.15 0a4.15 4.15 0 1 0 8.30 0a4.15 4.15 0 1 0 -8.30 0M145.1 362.0m-4.15 0a4.15 4.15 0 1 0 8.30 0a4.15 4.15 0 1 0 -8.30 0M145.1 356.1m-4.15 0a4.15 4.15 0 1 0 8.30 0a4.15 4.15 0 1 0 -8.30 0M145.1 350.3m-4.15 0a4.15 4.15 0 1 0 8.30 0a4.15 4.15 0 1 0 -8.30 0M145.1 344.5m-4.15 0a4.15 4.15 0 1 0 8.30 0a4.15 4.15 0 1 0 -8.30 0M145.1 338.6m-4.15 0a4.15 4.15 0 1 0 8.30 0a4.15 4.15 0 1 0 -8.30 0M157.9 338.6m-4.15 0a4.15 4.15 0 1 0 8.30 0a4.15 4.15 0 1 0 -8.30 0M157.9 332.6m-4.15 0a4.15 4.15 0 1 0 8.30 0a4.15 4.15 0 1 0 -8.30 0M157.9 326.5m-4.15 0a4.15 4.15 0 1 0 8.30 0a4.15 4.15 0 1 0 -8.30 0M157.9 320.4m-4.15 0a4.15 4.15 0 1 0 8.30 0a4.15 4.15 0 1 0 -8.30 0M157.9 314.4m-4.15 0a4.15 4.15 0 1 0 8.30 0a4.15 4.15 0 1 0 -8.30 0M170.8 314.4m-4.15 0a4.15 4.15 0 1 0 8.30 0a4.15 4.15 0 1 0 -8.30 0M183.6 314.4m-4.15 0a4.15 4.15 0 1 0 8.30 0a4.15 4.15 0 1 0 -8.30 0M183.6 308.7m-4.15 0a4.15 4.15 0 1 0 8.30 0a4.15 4.15 0 1 0 -8.30 0M183.6 302.9m-4.15 0a4.15 4.15 0 1 0 8.30 0a4.15 4.15 0 1 0 -8.30 0M183.6 297.2m-4.15 0a4.15 4.15 0 1 0 8.30 0a4.15 4.15 0 1 0 -8.30 0M196.5 297.2m-4.15 0a4.15 4.15 0 1 0 8.30 0a4.15 4.15 0 1 0 -8.30 0M196.5 291.5m-4.15 0a4.15 4.15 0 1 0 8.30 0a4.15 4.15 0 1 0 -8.30 0M196.5 285.8m-4.15 0a4.15 4.15 0 1 0 8.30 0a4.15 4.15 0 1 0 -8.30 0M209.4 285.8m-4.15 0a4.15 4.15 0 1 0 8.30 0a4.15 4.15 0 1 0 -8.30 0M209.4 279.9m-4.15 0a4.15 4.15 0 1 0 8.30 0a4.15 4.15 0 1 0 -8.30 0M209.4 274.0m-4.15 0a4.15 4.15 0 1 0 8.30 0a4.15 4.15 0 1 0 -8.30 0M209.4 268.1m-4.15 0a4.15 4.15 0 1 0 8.30 0a4.15 4.15 0 1 0 -8.30 0M209.4 262.2m-4.15 0a4.15 4.15 0 1 0 8.30 0a4.15 4.15 0 1 0 -8.30 0M209.4 256.3m-4.15 0a4.15 4.15 0 1 0 8.30 0a4.15 4.15 0 1 0 -8.30 0M222.2 256.3m-4.15 0a4.15 4.15 0 1 0 8.30 0a4.15 4.15 0 1 0 -8.30 0M235.1 256.3m-4.15 0a4.15 4.15 0 1 0 8.30 0a4.15 4.15 0 1 0 -8.30 0M260.8 256.3m-4.15 0a4.15 4.15 0 1 0 8.30 0a4.15 4.15 0 1 0 -8.30 0M260.8 250.8m-4.15 0a4.15 4.15 0 1 0 8.30 0a4.15 4.15 0 1 0 -8.30 0M260.8 245.3m-4.15 0a4.15 4.15 0 1 0 8.30 0a4.15 4.15 0 1 0 -8.30 0M273.6 245.3m-4.15 0a4.15 4.15 0 1 0 8.30 0a4.15 4.15 0 1 0 -8.30 0M273.6 239.2m-4.15 0a4.15 4.15 0 1 0 8.30 0a4.15 4.15 0 1 0 -8.30 0M273.6 233.0m-4.15 0a4.15 4.15 0 1 0 8.30 0a4.15 4.15 0 1 0 -8.30 0M273.6 226.9m-4.15 0a4.15 4.15 0 1 0 8.30 0a4.15 4.15 0 1 0 -8.30 0M286.5 226.9m-4.15 0a4.15 4.15 0 1 0 8.30 0a4.15 4.15 0 1 0 -8.30 0M286.5 221.1m-4.15 0a4.15 4.15 0 1 0 8.30 0a4.15 4.15 0 1 0 -8.30 0M286.5 215.4m-4.15 0a4.15 4.15 0 1 0 8.30 0a4.15 4.15 0 1 0 -8.30 0M286.5 209.6m-4.15 0a4.15 4.15 0 1 0 8.30 0a4.15 4.15 0 1 0 -8.30 0M286.5 203.9m-4.15 0a4.15 4.15 0 1 0 8.30 0a4.15 4.15 0 1 0 -8.30 0M286.5 198.1m-4.15 0a4.15 4.15 0 1 0 8.30 0a4.15 4.15 0 1 0 -8.30 0M286.5 192.4m-4.15 0a4.15 4.15 0 1 0 8.30 0a4.15 4.15 0 1 0 -8.30 0M286.5 186.6m-4.15 0a4.15 4.15 0 1 0 8.30 0a4.15 4.15 0 1 0 -8.30 0M299.4 186.6m-4.15 0a4.15 4.15 0 1 0 8.30 0a4.15 4.15 0 1 0 -8.30 0M299.4 181.5m-4.15 0a4.15 4.15 0 1 0 8.30 0a4.15 4.15 0 1 0 -8.30 0M299.4 176.3m-4.15 0a4.15 4.15 0 1 0 8.30 0a4.15 4.15 0 1 0 -8.30 0M299.4 171.2m-4.15 0a4.15 4.15 0 1 0 8.30 0a4.15 4.15 0 1 0 -8.30 0M299.4 166.0m-4.15 0a4.15 4.15 0 1 0 8.30 0a4.15 4.15 0 1 0 -8.30 0M299.4 160.9m-4.15 0a4.15 4.15 0 1 0 8.30 0a4.15 4.15 0 1 0 -8.30 0M299.4 155.7m-4.15 0a4.15 4.15 0 1 0 8.30 0a4.15 4.15 0 1 0 -8.30 0M299.4 150.6m-4.15 0a4.15 4.15 0 1 0 8.30 0a4.15 4.15 0 1 0 -8.30 0M312.2 150.6m-4.15 0a4.15 4.15 0 1 0 8.30 0a4.15 4.15 0 1 0 -8.30 0M312.2 144.7m-4.15 0a4.15 4.15 0 1 0 8.30 0a4.15 4.15 0 1 0 -8.30 0M312.2 138.9m-4.15 0a4.15 4.15 0 1 0 8.30 0a4.15 4.15 0 1 0 -8.30 0M312.2 133.0m-4.15 0a4.15 4.15 0 1 0 8.30 0a4.15 4.15 0 1 0 -8.30 0M325.1 133.0m-4.15 0a4.15 4.15 0 1 0 8.30 0a4.15 4.15 0 1 0 -8.30 0M337.9 133.0m-4.15 0a4.15 4.15 0 1 0 8.30 0a4.15 4.15 0 1 0 -8.30 0M350.8 133.0m-4.15 0a4.15 4.15 0 1 0 8.30 0a4.15 4.15 0 1 0 -8.30 0M350.8 127.6m-4.15 0a4.15 4.15 0 1 0 8.30 0a4.15 4.15 0 1 0 -8.30 0M363.6 127.6m-4.15 0a4.15 4.15 0 1 0 8.30 0a4.15 4.15 0 1 0 -8.30 0M363.6 121.6m-4.15 0a4.15 4.15 0 1 0 8.30 0a4.15 4.15 0 1 0 -8.30 0M363.6 115.6m-4.15 0a4.15 4.15 0 1 0 8.30 0a4.15 4.15 0 1 0 -8.30 0M376.5 115.6m-4.15 0a4.15 4.15 0 1 0 8.30 0a4.15 4.15 0 1 0 -8.30 0M389.4 115.6m-4.15 0a4.15 4.15 0 1 0 8.30 0a4.15 4.15 0 1 0 -8.30 0M389.4 109.9m-4.15 0a4.15 4.15 0 1 0 8.30 0a4.15 4.15 0 1 0 -8.30 0M389.4 104.2m-4.15 0a4.15 4.15 0 1 0 8.30 0a4.15 4.15 0 1 0 -8.30 0M389.4 98.5m-4.15 0a4.15 4.15 0 1 0 8.30 0a4.15 4.15 0 1 0 -8.30 0M389.4 92.8m-4.15 0a4.15 4.15 0 1 0 8.30 0a4.15 4.15 0 1 0 -8.30 0M402.2 92.8m-4.15 0a4.15 4.15 0 1 0 8.30 0a4.15 4.15 0 1 0 -8.30 0M415.1 92.8m-4.15 0a4.15 4.15 0 1 0 8.30 0a4.15 4.15 0 1 0 -8.30 0M415.1 86.6m-4.15 0a4.15 4.15 0 1 0 8.30 0a4.15 4.15 0 1 0 -8.30 0M427.9 86.6m-4.15 0a4.15 4.15 0 1 0 8.30 0a4.15 4.15 0 1 0 -8.30 0M427.9 81.0m-4.15 0a4.15 4.15 0 1 0 8.30 0a4.15 4.15 0 1 0 -8.30 0M440.8 81.0m-4.15 0a4.15 4.15 0 1 0 8.30 0a4.15 4.15 0 1 0 -8.30 0M453.6 81.0m-4.15 0a4.15 4.15 0 1 0 8.30 0a4.15 4.15 0 1 0 -8.30 0M466.5 81.0m-4.15 0a4.15 4.15 0 1 0 8.30 0a4.15 4.15 0 1 0 -8.30 0M479.4 81.0m-4.15 0a4.15 4.15 0 1 0 8.30 0a4.15 4.15 0 1 0 -8.30 0M492.2 81.0m-4.15 0a4.15 4.15 0 1 0 8.30 0a4.15 4.15 0 1 0 -8.30 0M505.1 81.0m-4.15 0a4.15 4.15 0 1 0 8.30 0a4.15 4.15 0 1 0 -8.30 0M517.9 81.0m-4.15 0a4.15 4.15 0 1 0 8.30 0a4.15 4.15 0 1 0 -8.30 0M530.8 81.0m-4.15 0a4.15 4.15 0 1 0 8.30 0a4.15 4.15 0 1 0 -8.30 0M543.6 81.0m-4.15 0a4.15 4.15 0 1 0 8.30 0a4.15 4.15 0 1 0 -8.30 0M556.5 81.0m-4.15 0a4.15 4.15 0 1 0 8.30 0a4.15 4.15 0 1 0 -8.30 0" fill="#8e5e1e"/>
<path d="M344.5 272.2H408.8" stroke="#ffff00" stroke-width="3.5"/>
<path d="M345.2 301.4H409.5" stroke="#00ba00" stroke-width="3.5"/>
<path d="M345.8 327.0H410.1" stroke="#0000ff" stroke-width="3.5"/>
<path d="M344.3 354.8H408.6" stroke="#a800e6" stroke-width="3.5"/>
<path d="M345.2 382.5H409.5" stroke="#ff5f00" stroke-width="3.5"/>
<path d="M345.8 410.4H410.1" stroke="#686868" stroke-width="3.5"/>
<path d="M345.8 437.7H410.1" stroke="#8e5e1e" stroke-width="3.5"/>
<g font-family="'Liberation Sans', sans-serif" font-size="20.4" fill="#000">
<path d="M552.2 265.9Q542.0 274.8 552.2 283.7" fill="none" stroke="#000" stroke-width="1.25" stroke-linecap="round"/><path d="M680.0 265.9Q690.2 274.8 680.0 283.7" fill="none" stroke="#000" stroke-width="1.25" stroke-linecap="round"/><g transform="translate(416.60 281.90) scale(1.0 1.04)"><text x="0" y="0">T12 HU Value</text><text x="137.4" y="0" textLength="123.4" lengthAdjust="spacingAndGlyphs">AUC=0.8374</text></g>
<path d="M542.9 291.7Q532.7 300.6 542.9 309.5" fill="none" stroke="#000" stroke-width="1.25" stroke-linecap="round"/><path d="M670.7 291.7Q680.9 300.6 670.7 309.5" fill="none" stroke="#000" stroke-width="1.25" stroke-linecap="round"/><g transform="translate(419.60 307.70) scale(1.0 1.04)"><text x="0" y="0">L1 HU Value</text><text x="125.1" y="0" textLength="123.4" lengthAdjust="spacingAndGlyphs">AUC=0.8732</text></g>
<path d="M542.9 319.2Q532.7 328.1 542.9 337.0" fill="none" stroke="#000" stroke-width="1.25" stroke-linecap="round"/><path d="M670.7 319.2Q680.9 328.1 670.7 337.0" fill="none" stroke="#000" stroke-width="1.25" stroke-linecap="round"/><g transform="translate(419.60 335.20) scale(1.0 1.04)"><text x="0" y="0">L2 HU Value</text><text x="125.1" y="0" textLength="123.4" lengthAdjust="spacingAndGlyphs">AUC=0.8693</text></g>
<path d="M542.9 347.5Q532.7 356.4 542.9 365.3" fill="none" stroke="#000" stroke-width="1.25" stroke-linecap="round"/><path d="M670.7 347.5Q680.9 356.4 670.7 365.3" fill="none" stroke="#000" stroke-width="1.25" stroke-linecap="round"/><g transform="translate(419.60 363.50) scale(1.0 1.04)"><text x="0" y="0">L3 HU Value</text><text x="125.1" y="0" textLength="123.4" lengthAdjust="spacingAndGlyphs">AUC=0.8433</text></g>
<path d="M542.9 374.4Q532.7 383.3 542.9 392.2" fill="none" stroke="#000" stroke-width="1.25" stroke-linecap="round"/><path d="M670.7 374.4Q680.9 383.3 670.7 392.2" fill="none" stroke="#000" stroke-width="1.25" stroke-linecap="round"/><g transform="translate(419.60 390.40) scale(1.0 1.04)"><text x="0" y="0">L4 HU Value</text><text x="125.1" y="0" textLength="123.4" lengthAdjust="spacingAndGlyphs">AUC=0.8175</text></g>
<path d="M542.9 400.9Q532.7 409.8 542.9 418.7" fill="none" stroke="#000" stroke-width="1.25" stroke-linecap="round"/><path d="M670.7 400.9Q680.9 409.8 670.7 418.7" fill="none" stroke="#000" stroke-width="1.25" stroke-linecap="round"/><g transform="translate(419.60 416.90) scale(1.0 1.04)"><text x="0" y="0">L5 HU Value</text><text x="125.1" y="0" textLength="123.4" lengthAdjust="spacingAndGlyphs">AUC=0.7827</text></g>
<path d="M542.9 430.5Q532.7 439.4 542.9 448.3" fill="none" stroke="#000" stroke-width="1.25" stroke-linecap="round"/><path d="M670.7 430.5Q680.9 439.4 670.7 448.3" fill="none" stroke="#000" stroke-width="1.25" stroke-linecap="round"/><g transform="translate(418.60 446.50) scale(1.0 1.04)"><text x="0" y="0">S1 HU Value</text><text x="126.1" y="0" textLength="123.4" lengthAdjust="spacingAndGlyphs">AUC=0.7333</text></g>
</g>
<g font-family="'Liberation Sans', sans-serif" font-weight="bold" fill="#000">
<g transform="translate(330.90 27.70) scale(1.0 1.04)"><text x="0" y="0" font-size="38" text-anchor="middle" textLength="412" lengthAdjust="spacingAndGlyphs">ROC curve of HU Value</text></g>
<g transform="translate(331.50 564.30) scale(1.0 1.04)"><path transform="translate(-104.35 0.00) scale(0.01562 -0.01496)" d="M806 0L525 0L525 1059Q371 915 162 846L162 1101Q272 1137 401 1237.5Q530 1338 578 1472L806 1472Z"/><text x="-76.46" y="0" font-size="32">- Specificity</text></g>
<g transform="translate(24.10 273.50) rotate(-90) scale(1.0 1.04)"><text x="0" y="0" font-size="32" text-anchor="middle" textLength="183" lengthAdjust="spacingAndGlyphs">Sensitivity%</text></g>
<g font-size="30">
<g transform="translate(106.50 517.00) scale(0.975 1.0)"><text x="-20.85" y="0">0.0</text></g>
<g transform="translate(196.50 517.00) scale(0.975 1.0)"><text x="-20.85" y="0">0.2</text></g>
<g transform="translate(286.50 517.00) scale(0.975 1.0)"><text x="-20.85" y="0">0.4</text></g>
<g transform="translate(376.50 517.00) scale(0.975 1.0)"><text x="-20.85" y="0">0.6</text></g>
<g transform="translate(466.50 517.00) scale(0.975 1.0)"><text x="-20.85" y="0">0.8</text></g>
<g transform="translate(556.50 517.00) scale(0.975 1.0)"><path transform="translate(-20.85 0.00) scale(0.01465 -0.01402)" d="M806 0L525 0L525 1059Q371 915 162 846L162 1101Q272 1137 401 1237.5Q530 1338 578 1472L806 1472Z"/><text x="-4.17" y="0">.0</text></g>
<g transform="translate(85.90 478.80) scale(0.975 1.0)"><text x="-41.70" y="0">0.0</text></g>
<g transform="translate(85.90 285.00) scale(0.975 1.0)"><text x="-41.70" y="0">0.5</text></g>
<g transform="translate(85.90 91.20) scale(0.975 1.0)"><path transform="translate(-41.70 0.00) scale(0.01465 -0.01402)" d="M806 0L525 0L525 1059Q371 915 162 846L162 1101Q272 1137 401 1237.5Q530 1338 578 1472L806 1472Z"/><text x="-25.02" y="0">.0</text></g>
</g>
</g>
</svg>
</body></html>
